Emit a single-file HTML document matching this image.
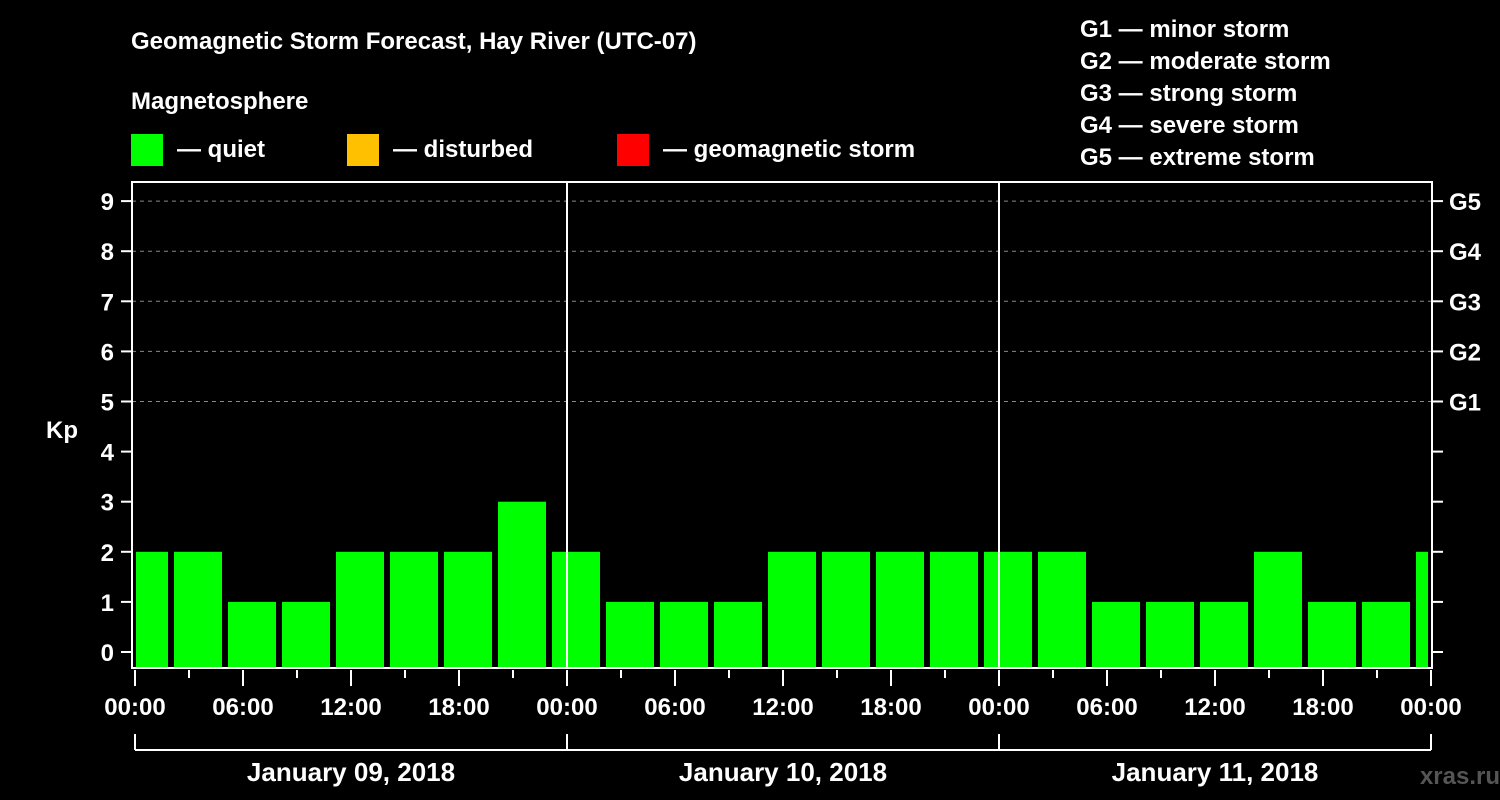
<!DOCTYPE html>
<html><head><meta charset="utf-8"><style>
body{margin:0;background:#000;width:1500px;height:800px;overflow:hidden}
svg{display:block}
text{font-family:"Liberation Sans",Arial,sans-serif;font-weight:bold;fill:#fff}
</style></head><body>
<svg id="c" width="1500" height="800">
<text x="131" y="49" font-size="24">Geomagnetic Storm Forecast, Hay River (UTC-07)</text>
<text x="131" y="109" font-size="24">Magnetosphere</text>
<rect x="131" y="134" width="32" height="32" fill="#00ff00"/>
<text x="177" y="157" font-size="24">— quiet</text>
<rect x="347" y="134" width="32" height="32" fill="#ffc000"/>
<text x="393" y="157" font-size="24">— disturbed</text>
<rect x="617" y="134" width="32" height="32" fill="#ff0000"/>
<text x="663" y="157" font-size="24">— geomagnetic storm</text>
<g font-size="24">
<text x="1080" y="37">G1 — minor storm</text>
<text x="1080" y="69">G2 — moderate storm</text>
<text x="1080" y="101">G3 — strong storm</text>
<text x="1080" y="133">G4 — severe storm</text>
<text x="1080" y="165">G5 — extreme storm</text>
</g>
<text x="62" y="438" font-size="24" text-anchor="middle">Kp</text>
<text x="1500" y="784" font-size="24" text-anchor="end" fill="#555" style="fill:#555">xras.ru</text>
<defs><clipPath id="pc"><rect x="136" y="182" width="1292" height="486"/></clipPath></defs>
<g id="grid"></g><g id="bars" clip-path="url(#pc)"></g><g id="axes"></g>
</svg>
<script>
const kpValues=[2,2,1,1,2,2,2,3,2,1,1,1,2,2,2,2,2,2,1,1,1,2,1,1,2];
const yTicks=[0,1,2,3,4,5,6,7,8,9];
const gLabels=["G1","G2","G3","G4","G5"];
const gLevels=[5,6,7,8,9];
const xLabels=["00:00","06:00","12:00","18:00","00:00","06:00","12:00","18:00","00:00","06:00","12:00","18:00","00:00"];
const dayLabels=["January 09, 2018","January 10, 2018","January 11, 2018"];
const NS="http://www.w3.org/2000/svg";
const X0=135,PXH=18,Y0=652,PYK=50.1;
const xs=h=>X0+h*PXH, ys=k=>Y0-k*PYK;
function mk(t,a,p){const e=document.createElementNS(NS,t);for(const k in a)e.setAttribute(k,a[k]);p.appendChild(e);return e;}
const grid=document.getElementById('grid'),bars=document.getElementById('bars'),axes=document.getElementById('axes');
gLevels.forEach(k=>{const l=mk('line',{x1:132,x2:1432,y1:ys(k),y2:ys(k),stroke:'#888','stroke-dasharray':'4,4','stroke-width':1},grid);

});
kpValues.forEach((v,i)=>{const c=xs(0.5+i*3);const r=mk('rect',{x:c-24,y:ys(v),width:48,height:668-ys(v),fill:'#00ff00'},bars);

});
[1,2].forEach(d=>{const l=mk('line',{x1:xs(d*24),x2:xs(d*24),y1:182,y2:668,stroke:'#fff','stroke-width':2},axes);

});
const fr=mk('rect',{x:132,y:182,width:1300,height:486,fill:'none',stroke:'#fff','stroke-width':2},axes);


yTicks.forEach(k=>{mk('line',{x1:121,x2:131,y1:ys(k),y2:ys(k),stroke:'#fff','stroke-width':2},axes);
mk('line',{x1:1433,x2:1443,y1:ys(k),y2:ys(k),stroke:'#fff','stroke-width':2},axes);
const t=mk('text',{x:114,y:ys(k)+9,'font-size':24,'text-anchor':'end'},axes);t.textContent=k;

});
gLabels.forEach((g,i)=>{const t=mk('text',{x:1449,y:ys(gLevels[i])+9,'font-size':24},axes);t.textContent=g;

});
for(let h=0;h<=72;h+=3){const major=h%6==0;mk('line',{x1:xs(h),x2:xs(h),y1:670,y2:major?686:678,stroke:'#fff','stroke-width':2},axes);}
xLabels.forEach((s,i)=>{const t=mk('text',{x:xs(i*6),y:715,'font-size':24,'text-anchor':'middle'},axes);t.textContent=s;

});
mk('line',{x1:xs(0),x2:xs(72),y1:750,y2:750,stroke:'#fff','stroke-width':2},axes);
for(let d=0;d<=3;d++)mk('line',{x1:xs(d*24),x2:xs(d*24),y1:734,y2:750,stroke:'#fff','stroke-width':2},axes);
dayLabels.forEach((s,i)=>{const t=mk('text',{x:xs(i*24+12),y:781,'font-size':26,'text-anchor':'middle'},axes);t.textContent=s;

});
</script>
</body></html>
